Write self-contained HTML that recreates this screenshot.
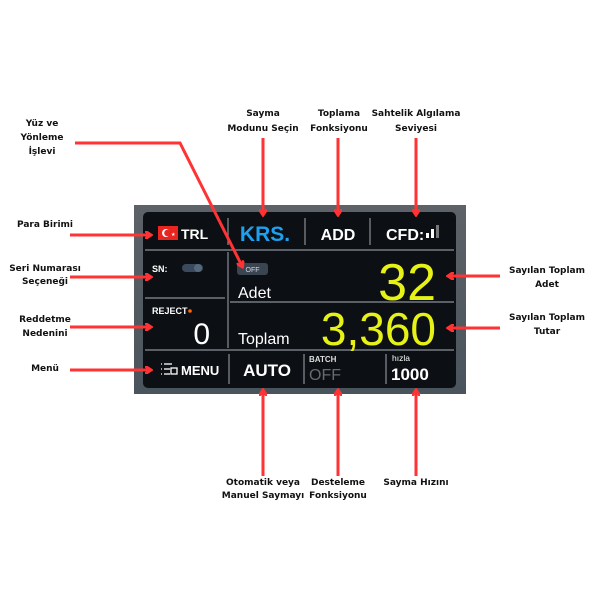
<!DOCTYPE html>
<html><head><meta charset="utf-8"><style>
html,body{margin:0;padding:0;background:#fff}
svg{display:block}
.l{font-family:"DejaVu Sans","Liberation Sans",sans-serif;font-weight:bold;font-size:9px;fill:#111;text-anchor:middle}
.s{font-family:"Liberation Sans","DejaVu Sans",sans-serif}
</style></head><body>
<svg width="600" height="600" viewBox="0 0 600 600" xmlns="http://www.w3.org/2000/svg">
<defs>
<marker id="a" markerWidth="8" markerHeight="8" refX="5" refY="4" orient="auto" markerUnits="userSpaceOnUse">
<path d="M0,0 L6,4 L0,8" fill="none" stroke="#f33" stroke-width="3"/>
</marker>
<linearGradient id="bz" x1="0" y1="0" x2="0" y2="1"><stop offset="0" stop-color="#5d6268"/><stop offset="1" stop-color="#4a545c"/></linearGradient>
</defs>
<rect x="134" y="205" width="332" height="189" fill="url(#bz)"/>
<rect x="143" y="212" width="313" height="176" rx="5" fill="#0c0f13"/>
<g stroke="#8a9098" stroke-width="1.2">
<line x1="145" y1="250" x2="454" y2="250"/>
<line x1="145" y1="350" x2="454" y2="350"/>
<line x1="145" y1="298" x2="225" y2="298"/>
<line x1="230" y1="302" x2="454" y2="302"/>
<line x1="228" y1="218" x2="228" y2="245"/>
<line x1="305" y1="218" x2="305" y2="245"/>
<line x1="370" y1="218" x2="370" y2="245"/>
<line x1="228" y1="252" x2="228" y2="348"/>
<line x1="229" y1="354" x2="229" y2="384"/>
<line x1="304" y1="354" x2="304" y2="384"/>
<line x1="386" y1="354" x2="386" y2="384"/>
</g>
<rect x="158" y="226" width="20" height="14" fill="#e8251f"/>
<circle cx="166" cy="233" r="4" fill="#fff"/><circle cx="167.5" cy="233" r="3.3" fill="#e8251f"/>
<text x="171" y="236" font-size="5" fill="#fff" class="s">★</text>
<text x="181" y="239" class="s" font-size="14" font-weight="bold" fill="#fff">TRL</text>
<text x="265" y="241" class="s" font-size="21" font-weight="bold" fill="#1ea0f0" text-anchor="middle">KRS.</text>
<text x="338" y="240" class="s" font-size="16" font-weight="bold" fill="#fff" text-anchor="middle">ADD</text>
<text x="386" y="240" class="s" font-size="16" font-weight="bold" fill="#fff">CFD:</text>
<rect x="426" y="233" width="3" height="5" fill="#fff"/><rect x="431" y="229" width="3" height="9" fill="#fff"/><rect x="436" y="225" width="3" height="13" fill="#777"/>
<text x="152" y="272" class="s" font-size="9" font-weight="bold" fill="#fff">SN:</text>
<rect x="182" y="264" width="21" height="8" rx="4" fill="#3a4a5c"/><circle cx="198" cy="268" r="4" fill="#55687c"/>
<text x="152" y="314" class="s" font-size="9" font-weight="bold" fill="#fff">REJECT</text>
<circle cx="190" cy="311" r="1.8" fill="#f60"/>
<text x="210" y="344" class="s" font-size="30" fill="#fff" text-anchor="end">0</text>
<rect x="237" y="263" width="31" height="12" rx="3" fill="#3b4552"/>
<text x="252.5" y="272" class="s" font-size="7" fill="#cfd6de" text-anchor="middle">OFF</text>
<text x="238" y="298" class="s" font-size="16" fill="#fff">Adet</text>
<text x="436" y="300" class="s" font-size="52" fill="#e6f216" text-anchor="end">32</text>
<text x="238" y="344" class="s" font-size="16" fill="#fff">Toplam</text>
<text x="436" y="345" class="s" font-size="46" fill="#e6f216" text-anchor="end">3,360</text>
<g stroke="#fff" stroke-width="1.3" fill="none">
<line x1="161" y1="364" x2="162" y2="364"/><line x1="164" y1="364" x2="172" y2="364"/>
<line x1="161" y1="369" x2="162" y2="369"/><line x1="164" y1="369" x2="170" y2="369"/>
<line x1="161" y1="374" x2="162" y2="374"/><line x1="164" y1="374" x2="170" y2="374"/>
<rect x="171" y="368" width="6" height="6"/>
</g>
<text x="181" y="375" class="s" font-size="13" font-weight="bold" fill="#fff">MENU</text>
<text x="267" y="376" class="s" font-size="17" font-weight="bold" fill="#fff" text-anchor="middle">AUTO</text>
<text x="309" y="362" class="s" font-size="8" font-weight="bold" fill="#ddd">BATCH</text>
<text x="309" y="380" class="s" font-size="16" fill="#666b70">OFF</text>
<text x="392" y="361" class="s" font-size="8.5" fill="#fff">hızla</text>
<text x="391" y="380" class="s" font-size="17" font-weight="bold" fill="#fff">1000</text>
<g stroke="#f33" stroke-width="3" fill="none" marker-end="url(#a)">
<line x1="263" y1="138" x2="263" y2="214"/>
<line x1="338" y1="138" x2="338" y2="214"/>
<line x1="416" y1="138" x2="416" y2="214"/>
<line x1="263" y1="476" x2="263" y2="391"/>
<line x1="338" y1="476" x2="338" y2="391"/>
<line x1="416" y1="476" x2="416" y2="391"/>
<line x1="70" y1="235" x2="150" y2="235"/>
<line x1="70" y1="277" x2="150" y2="277"/>
<line x1="70" y1="327" x2="150" y2="327"/>
<line x1="70" y1="370" x2="150" y2="370"/>
<line x1="500" y1="276" x2="449" y2="276"/>
<line x1="500" y1="328" x2="449" y2="328"/>
<polyline points="75,143 180,143 242,266"/>
</g>
<text class="l" x="42" y="126">Yüz ve</text>
<text class="l" x="42" y="140">Yönleme</text>
<text class="l" x="42" y="154">İşlevi</text>
<text class="l" x="263" y="116">Sayma</text>
<text class="l" x="263" y="131">Modunu Seçin</text>
<text class="l" x="339" y="116">Toplama</text>
<text class="l" x="339" y="131">Fonksiyonu</text>
<text class="l" x="416" y="116">Sahtelik Algılama</text>
<text class="l" x="416" y="131">Seviyesi</text>
<text class="l" x="45" y="227">Para Birimi</text>
<text class="l" x="45" y="271">Seri Numarası</text>
<text class="l" x="45" y="284">Seçeneği</text>
<text class="l" x="45" y="322">Reddetme</text>
<text class="l" x="45" y="336">Nedenini</text>
<text class="l" x="45" y="371">Menü</text>
<text class="l" x="547" y="273">Sayılan Toplam</text>
<text class="l" x="547" y="287">Adet</text>
<text class="l" x="547" y="320">Sayılan Toplam</text>
<text class="l" x="547" y="334">Tutar</text>
<text class="l" x="263" y="485">Otomatik veya</text>
<text class="l" x="263" y="498">Manuel Saymayı</text>
<text class="l" x="338" y="485">Desteleme</text>
<text class="l" x="338" y="498">Fonksiyonu</text>
<text class="l" x="416" y="485">Sayma Hızını</text>
</svg>
</body></html>
